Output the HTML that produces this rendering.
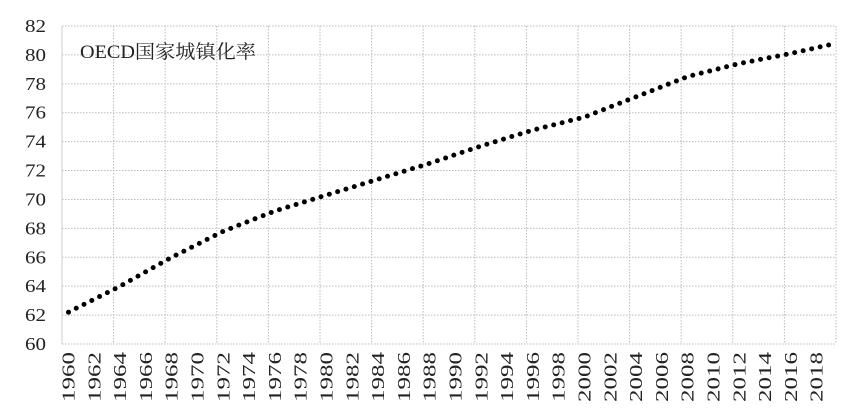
<!DOCTYPE html>
<html><head><meta charset="utf-8"><style>
html,body{margin:0;padding:0;background:#fff;width:864px;height:409px;overflow:hidden}
svg text{font-family:"Liberation Serif","Noto Serif CJK SC",serif;fill:#222}
</style></head><body>
<svg id="c" width="864" height="409" xmlns="http://www.w3.org/2000/svg"></svg>
<script>
var s=document.getElementById('c'),h='';
var L=62,R=836,T=26,B=344,n=60,cw=(R-L)/n;
function y(v){return B-(v-60)*(B-T)/22;}
for(var v=60;v<=82;v+=2){var yy=y(v);
 h+='<line x1="'+L+'" x2="'+R+'" y1="'+yy+'" y2="'+yy+'" stroke="#bbb" stroke-dasharray="1.5,1.5"/>';
 h+='<text x="46" y="'+(yy+6)+'" font-size="18" text-anchor="end" textLength="21" lengthAdjust="spacingAndGlyphs">'+v+'</text>';}
for(var i=0;i<=n;i+=4){var xx=L+i*cw;
 h+='<line x1="'+xx+'" x2="'+xx+'" y1="'+T+'" y2="'+B+'" stroke="#bbb" stroke-dasharray="1.5,1.5"/>';}
h+='<line x1="'+L+'" x2="'+L+'" y1="'+T+'" y2="'+B+'" stroke="#ccc"/>';
var k=[[1960,62.2],[1964,64.0],[1968,66.0],[1972,67.8],[1976,69.2],[1980,70.3],[1984,71.4],[1988,72.5],[1992,73.7],[1996,74.8],[2000,75.7],[2004,77.1],[2008,78.5],[2012,79.4],[2016,80.1],[2019,80.7]];
function val(yr){for(var j=0;j<k.length-1;j++){if(yr<=k[j+1][0]){var t=(yr-k[j][0])/(k[j+1][0]-k[j][0]);return k[j][1]+t*(k[j+1][1]-k[j][1]);}}return 80.7;}
var pts=[];
for(var i=0;i<n;i++){var yr=1960+i,xx=L+(i+0.5)*cw;
 pts.push(xx.toFixed(1)+','+y(val(yr)).toFixed(1));
 if(yr%2==0)h+='<text font-size="18" text-anchor="end" textLength="50" lengthAdjust="spacingAndGlyphs" transform="translate('+(xx+6)+',352) rotate(-90)">'+yr+'</text>';}
h+='<polyline points="'+pts.join(' ')+'" fill="none" stroke="#000" stroke-width="5" stroke-linecap="round" stroke-dasharray="0,8.7"/>';
h+='<text x="80" y="58" font-size="19" textLength="176" lengthAdjust="spacingAndGlyphs">OECD国家城镇化率</text>';
s.innerHTML=h;
</script>
</body></html>
